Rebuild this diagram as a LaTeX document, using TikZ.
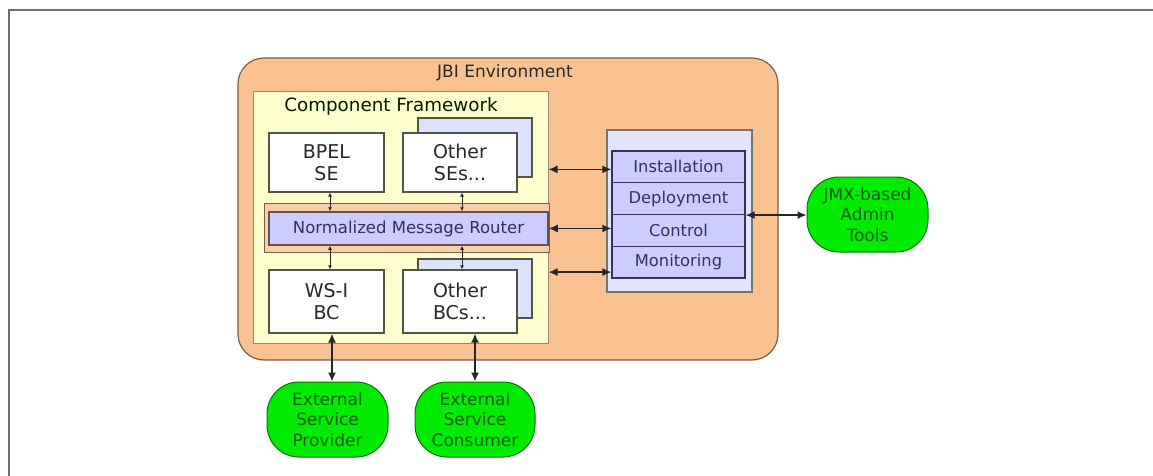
\documentclass[tikz,border=0pt]{standalone}
\usepackage{fontspec}
\setmainfont{DejaVu Sans}
\usetikzlibrary{arrows.meta}
\definecolor{envfill}{RGB}{250,194,145}
\definecolor{envline}{RGB}{120,95,75}
\definecolor{fwfill}{RGB}{255,255,206}
\definecolor{fwline}{RGB}{150,140,110}
\definecolor{lav}{RGB}{204,204,255}
\definecolor{lavlight}{RGB}{228,228,255}
\definecolor{backblue}{RGB}{220,226,255}
\definecolor{navy}{RGB}{50,50,90}
\definecolor{boxline}{RGB}{80,85,70}
\definecolor{gfill}{RGB}{0,235,0}
\definecolor{gline}{RGB}{0,120,0}
\definecolor{gtext}{RGB}{0,95,0}
\definecolor{txt}{RGB}{40,40,40}
\definecolor{framegray}{RGB}{110,110,110}
\tikzset{
  envbox/.style={draw=envline, fill=envfill, line width=1.2pt, rounded corners=26pt},
  fwbox/.style={draw=fwline, fill=fwfill, line width=1pt},
  bandbox/.style={draw=envline, fill=envfill!80!white, line width=1pt},
  nmrbox/.style={draw=envline!70!navy, fill=lav, line width=1.5pt, text=navy, font=\fontsize{16.5}{20}\selectfont},
  whitebox/.style={draw=boxline, fill=white, line width=1.2pt, text=txt, align=center, font=\fontsize{19}{22}\selectfont},
  shadowbox/.style={draw=boxline, fill=backblue, line width=1.2pt},
  mgmtouter/.style={draw=boxline!80!white, fill=lavlight, line width=1.2pt},
  mgmtitem/.style={draw=navy, fill=lav, line width=1.2pt, text=navy, font=\fontsize{16.3}{20}\selectfont},
  extnode/.style={draw=gline, fill=gfill, line width=1pt, rounded corners=32pt, text=gtext, align=center, font=\fontsize{17}{20.5}\selectfont},
  bigarrow/.style={draw=black!85, line width=1.4pt, {Latex[length=9pt,width=8pt]}-{Latex[length=9pt,width=8pt]}},
  smallarrow/.style={draw=black!85, line width=0.9pt, {Latex[length=4pt,width=4pt]}-{Latex[length=4pt,width=4pt]}},
  titletext/.style={text=txt, font=\fontsize{17}{20}\selectfont},
}
\begin{document}
\begin{tikzpicture}[x=1pt,y=-1pt]
\useasboundingbox (0,0) rectangle (1153,476);
% page frame
\coordinate (fbl) at (9,477);
\coordinate (ftl) at (9,10);
\coordinate (ftr) at (1154,10);
\draw[framegray, line width=2pt] (fbl) -- (ftl) -- (ftr);

% JBI environment
\node[envbox, minimum width=540, minimum height=302, inner sep=0] (env) at (508,209) {};
\node[titletext] (envt) at (505,73) {JBI Environment};

% component framework
\node[fwbox, minimum width=295, minimum height=251, inner sep=0] (fw) at (400.5,217.5) {};
\node[titletext, text=black!75!green!40!black, font=\fontsize{18.3}{20}\selectfont] (fwt) at (391,106) {Component Framework};

% band + router
\node[bandbox, minimum width=285, minimum height=49, inner sep=0] (band) at (406.5,227.5) {};
\node[nmrbox, minimum width=279, minimum height=33, inner sep=0] (nmr) at (408.5,228.5) {Normalized Message Router};

% SE boxes
\node[whitebox, minimum width=115, minimum height=59, inner sep=0] (bpel) at (326.5,162.5) {BPEL\\SE};
\node[shadowbox, minimum width=114, minimum height=59, inner sep=0] (ose2) at (475,147.5) {};
\node[whitebox, minimum width=114, minimum height=59, inner sep=0] (ose) at (460,162.5) {Other\\SEs...};

% BC boxes
\node[whitebox, minimum width=115, minimum height=63, inner sep=0] (wsi) at (326.5,301.5) {WS-I\\BC};
\node[shadowbox, minimum width=114, minimum height=59, inner sep=0] (obc2) at (475,288.5) {};
\node[whitebox, minimum width=114, minimum height=63, inner sep=0] (obc) at (460,301.5) {Other\\BCs...};

% management
\node[mgmtouter, minimum width=145, minimum height=162, inner sep=0] (mgmt) at (679.5,211) {};
\node[mgmtitem, minimum width=133, minimum height=31.75, inner sep=0] (inst) at (678.5,166.9) {Installation};
\node[mgmtitem, minimum width=133, minimum height=31.75, inner sep=0] (depl) at (678.5,198.6) {Deployment};
\node[mgmtitem, minimum width=133, minimum height=31.75, inner sep=0] (ctrl) at (678.5,230.4) {Control};
\node[mgmtitem, minimum width=133, minimum height=31.75, inner sep=0] (mon) at (678.5,262.1) {Monitoring};

% external
\node[extnode, minimum width=121, minimum height=75, inner sep=0] (jmx) at (867.5,214.5) {JMX-based\\Admin\\Tools};
\node[extnode, minimum width=121, minimum height=75, inner sep=0] (prov) at (327.5,419.5) {External\\Service\\Provider};
\node[extnode, minimum width=120, minimum height=75, inner sep=0] (cons) at (475,419.5) {External\\Service\\Consumer};

% small arrows inside framework
\draw[smallarrow] ([xshift=3.5pt]bpel.south) -- ([xshift=3.5pt]bpel.south |- nmr.north);
\draw[smallarrow] ([xshift=2pt]ose.south) -- ([xshift=2pt]ose.south |- nmr.north);
\draw[smallarrow] ([xshift=3.5pt]wsi.north) -- ([xshift=3.5pt]wsi.north |- nmr.south);
\draw[smallarrow] ([xshift=2pt]obc.north) -- ([xshift=2pt]obc.north |- nmr.south);

% arrows to management
\coordinate (a1) at ([yshift=-2.5pt]inst.west);
\coordinate (a3) at ([yshift=-10pt]mon.west);
\draw[bigarrow] (fw.east |- a1) -- (a1);
\draw[bigarrow] (nmr.east) -- (ctrl.west |- nmr.east);
\draw[bigarrow] (fw.east |- a3) -- (a3);
\draw[bigarrow] (depl.south east) -- (jmx.west |- depl.south east);

% arrows to external
\draw[bigarrow] ([xshift=5.5pt]wsi.south) -- ([xshift=4.5pt]prov.north);
\draw[bigarrow] (obc.south -| cons.north) -- (cons.north);
\end{tikzpicture}
\end{document}
